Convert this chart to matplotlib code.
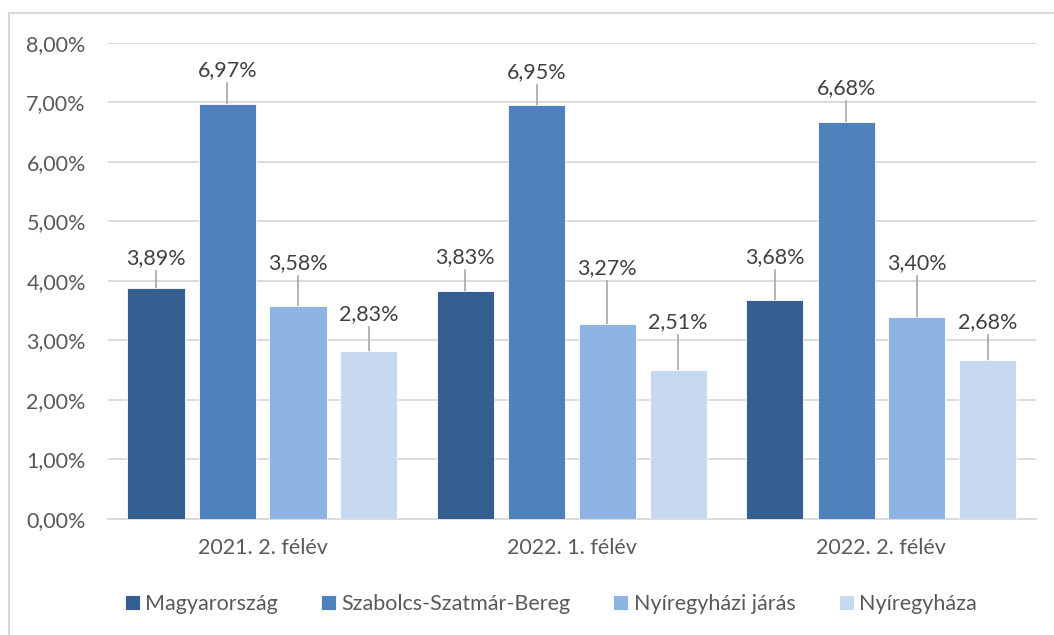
import numpy as np
import matplotlib.pyplot as plt
from matplotlib.lines import Line2D

categories = ['2021. 2. félév', '2022. 1. félév', '2022. 2. félév']
series_names = ['Magyarország', 'Szabolcs-Szatmár-Bereg', 'Nyíregyházi járás', 'Nyíregyháza']
magyarorszag = [3.89, 3.83, 3.68]
szabolcs = [6.97, 6.95, 6.68]
nyh_jaras = [3.58, 3.27, 3.40]
nyiregyhaza = [2.83, 2.51, 2.68]
y_ticks = [0, 1, 2, 3, 4, 5, 6, 7, 8]

# where the data labels sit (data units), like the moved labels in the original
label_y = [
    [4.39, 4.40, 4.40],
    [7.55, 7.51, 7.24],
    [4.30, 4.22, 4.30],
    [3.45, 3.31, 3.31],
]

colors = ['#355F91', '#4F81BD', '#8EB4E3', '#C6D9F1']
text_col = '#595959'
label_col = '#404040'

plt.rcParams['font.family'] = ['Lato', 'DejaVu Sans']

fig = plt.figure(figsize=(10.54, 6.35), dpi=100)
ax = fig.add_axes([0.1025, 0.1827, 0.8805, 0.7496])

# outer chart border (top and left visible)
fig.add_artist(Line2D([9 / 1054, 9 / 1054], [0, 1 - 13 / 635], transform=fig.transFigure,
                      color='#D9D9D9', lw=1.5))
fig.add_artist(Line2D([9 / 1054, 1], [1 - 13 / 635, 1 - 13 / 635], transform=fig.transFigure,
                      color='#D9D9D9', lw=1.5))

x = np.arange(len(categories))
offsets = [-0.345, -0.114, 0.114, 0.343]
width = 0.185
all_series = [magyarorszag, szabolcs, nyh_jaras, nyiregyhaza]
fs = 15.5

for i, vals in enumerate(all_series):
    ax.bar(x + offsets[i], vals, width, color=colors[i], label=series_names[i], zorder=3,
           edgecolor='white', linewidth=0.6)
    for j, v in enumerate(vals):
        ly = label_y[i][j]
        ax.text(x[j] + offsets[i], ly, ('%.2f%%' % v).replace('.', ','), ha='center',
                va='center', fontsize=fs, color=label_col, zorder=4)
        top = ly - 0.22
        if top > v:
            ax.plot([x[j] + offsets[i], x[j] + offsets[i]], [v, top], color='#A6A6A6',
                    lw=1.2, zorder=2)

ax.set_xlim(-0.5, 2.5)
ax.set_ylim(0, 8)
ax.set_yticks(y_ticks)
ax.set_yticklabels([('%.2f%%' % t).replace('.', ',') for t in y_ticks])
ax.set_xticks(x)
ax.set_xticklabels(categories)
ax.tick_params(axis='both', length=0, labelsize=fs, labelcolor=text_col)
ax.tick_params(axis='y', pad=16)
ax.tick_params(axis='x', pad=14)
ax.grid(axis='y', color='#D9D9D9', lw=1.3, zorder=0)
for s in ['top', 'right', 'left']:
    ax.spines[s].set_visible(False)
ax.spines['bottom'].set_color('#D9D9D9')
ax.spines['bottom'].set_linewidth(1.3)

ax.legend(loc='center', bbox_to_anchor=(0.477, -0.178), ncol=4, frameon=False,
          fontsize=fs, labelcolor=text_col, handlelength=0.7, handleheight=0.7,
          handletextpad=0.25, columnspacing=2.0)

fig.savefig('out.png', dpi=100)
